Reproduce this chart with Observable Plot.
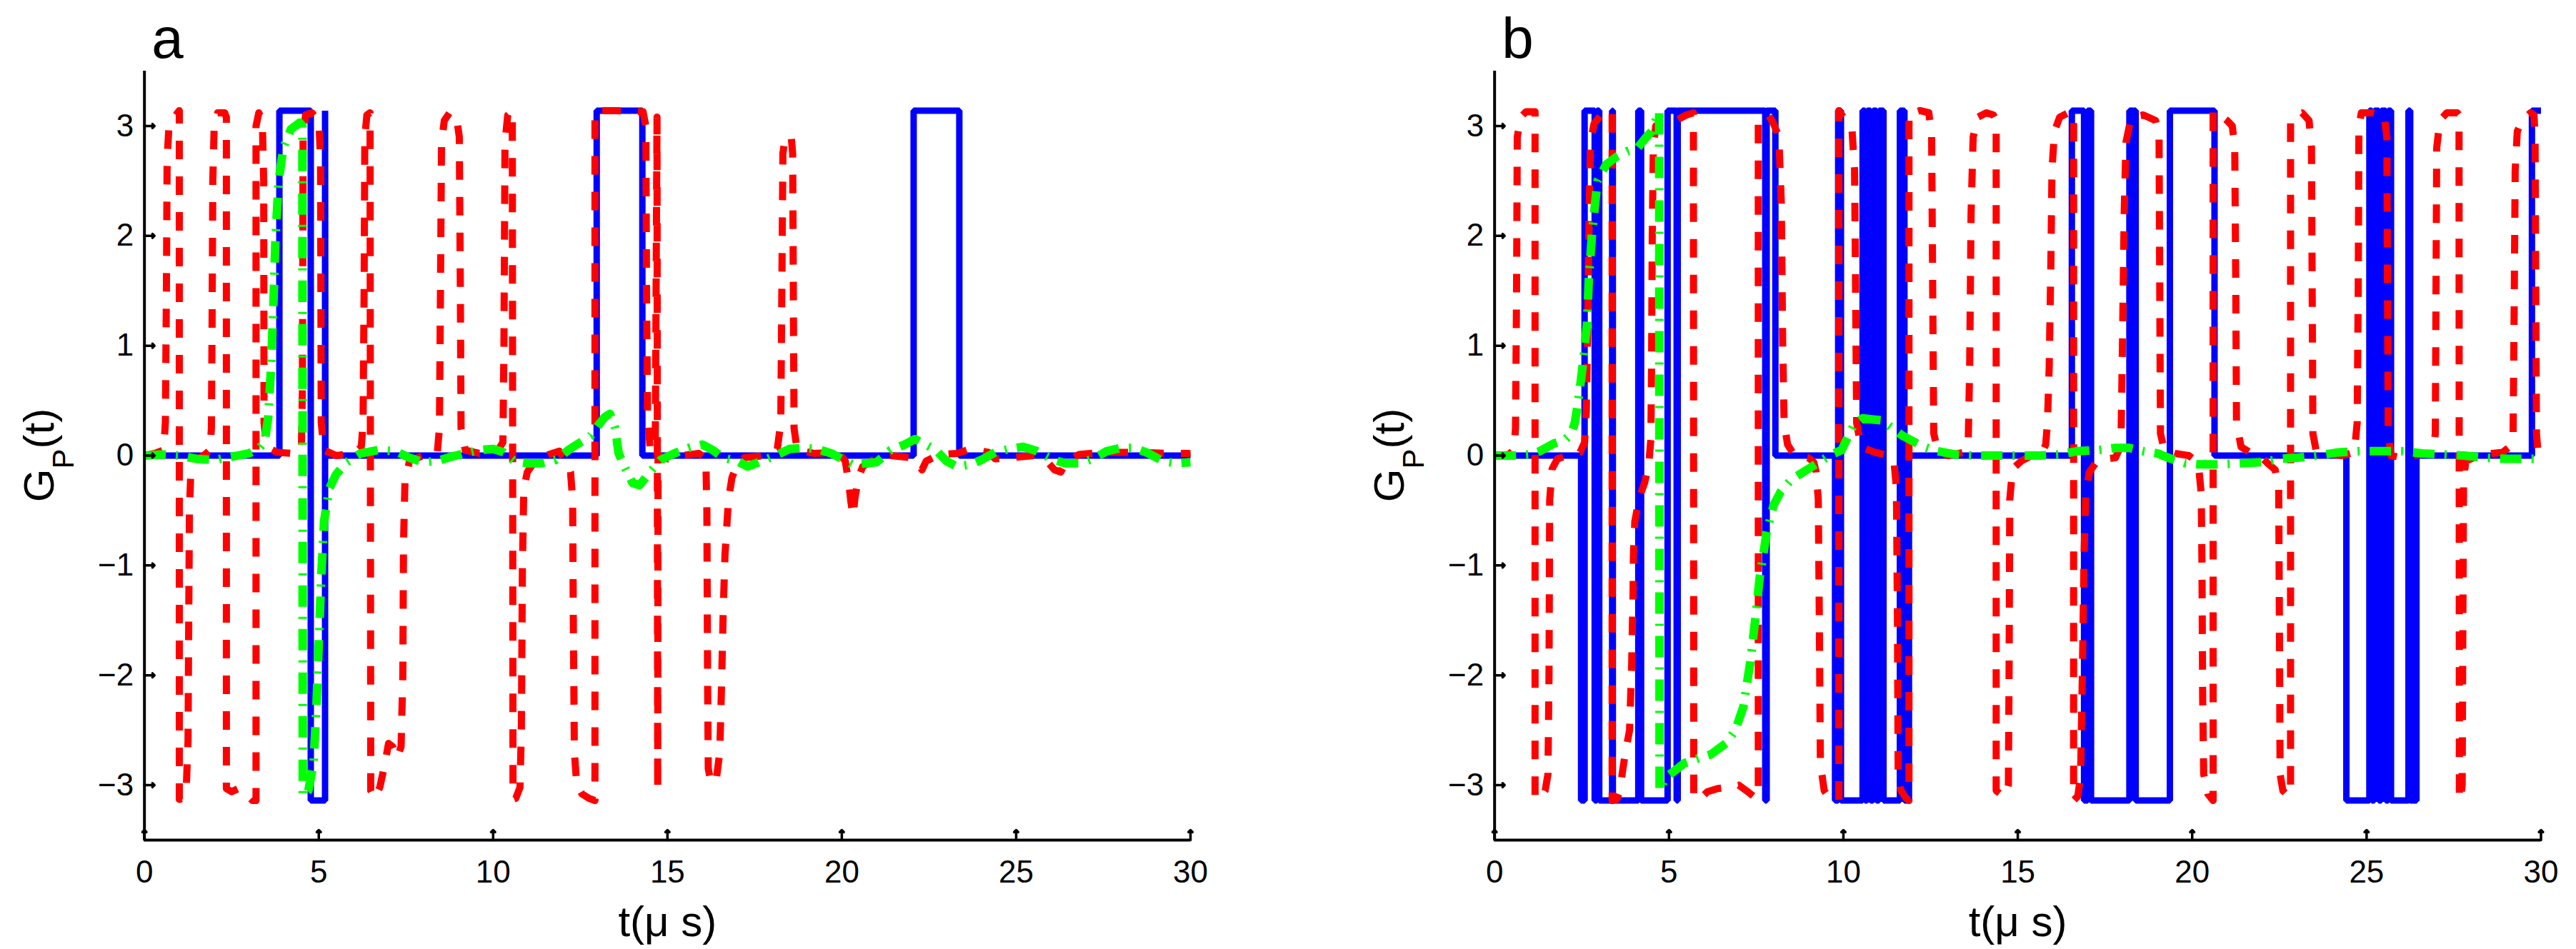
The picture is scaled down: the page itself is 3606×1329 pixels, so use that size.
<!DOCTYPE html>
<html><head><meta charset="utf-8">
<script src="https://cdn.jsdelivr.net/npm/d3@7"></script>
<script src="https://cdn.jsdelivr.net/npm/@observablehq/plot@0.6"></script>
<style>
html,body{margin:0;padding:0;background:#fff;overflow:hidden}
#wrap{display:flex;width:3606px;height:1329px}
#wrap svg{flex:none}
</style></head><body><div id="wrap"></div><script>
const xTicks = [0, 5, 10, 15, 20, 25, 30];
const yTicks = [-3, -2, -1, 0, 1, 2, 3];
const panelLetters = ["a", "b"];
const xLabel = "t(μ s)";

// Panel a: blue (solid), red (dashed), green (dash-dot) – [t, G_P]
const aBlue = [[0,0],[3.87,0],[3.87,3.14],[4.77,3.14],[4.77,-3.14],[5.18,-3.14],[5.18,3.14],[5.19,0],[12.97,0],[12.97,3.14],[14.28,3.14],[14.28,0],[22.06,0],[22.06,3.14],[23.37,3.14],[23.37,0],[30,0]];
const aRed = [[0,0],[0.3,0.02],[0.55,0.05],[0.6,0.3],[0.63,1.5],[0.65,2.7],[0.7,2.98],[0.85,3.08],[1.0,3.14],[1.0,-3.13],[1.1,-3.12],[1.2,-3.02],[1.25,-2.6],[1.27,-1.5],[1.29,-0.5],[1.33,-0.15],[1.45,-0.04],[1.7,0.0],[1.88,0.05],[1.92,0.25],[1.94,1.2],[1.96,2.5],[2.0,3.0],[2.1,3.12],[2.3,3.12],[2.35,3.08],[2.35,-3.03],[2.5,-3.06],[2.7,-3.03],[2.9,-3.08],[3.1,-3.14],[3.2,-3.14],[3.2,3.0],[3.28,3.12],[3.38,3.05],[3.42,2.5],[3.43,0.3],[3.5,0.08],[3.8,0.03],[4.2,0.02],[4.5,0.05],[4.53,0.6],[4.55,2.9],[4.62,3.1],[4.8,3.12],[5.0,3.05],[5.05,2.7],[5.07,0.3],[5.15,0.05],[5.5,0.0],[6.0,0.02],[6.22,0.08],[6.27,0.3],[6.3,1.5],[6.32,2.9],[6.38,3.1],[6.47,3.12],[6.49,-3.05],[6.6,-3.12],[6.75,-3.02],[6.9,-2.8],[7.0,-2.62],[7.12,-2.65],[7.25,-2.75],[7.36,-2.65],[7.41,-2.0],[7.43,-0.8],[7.47,-0.25],[7.6,-0.05],[8.0,0.0],[8.4,0.03],[8.46,0.25],[8.49,1.5],[8.52,2.85],[8.6,3.05],[8.75,3.12],[8.95,3.08],[9.03,2.9],[9.06,1.5],[9.08,0.25],[9.2,0.05],[9.6,0.02],[10.1,0.03],[10.28,0.12],[10.31,1.0],[10.34,2.85],[10.42,3.1],[10.55,3.14],[10.57,-3.13],[10.65,-3.12],[10.77,-3.02],[10.81,-2.5],[10.84,-1.0],[10.88,-0.3],[10.98,-0.15],[11.2,-0.05],[11.6,0.01],[11.9,0.04],[12.1,-0.06],[12.22,-0.15],[12.28,-0.4],[12.3,-1.5],[12.33,-2.7],[12.4,-3.0],[12.55,-3.08],[12.75,-3.12],[12.92,-3.14],[12.92,3.14],[13.5,3.14],[14.3,3.13],[14.38,3.0],[14.4,1.5],[14.43,0.35],[14.5,0.08],[14.65,0.05],[14.7,3.08],[14.72,-3.04],[14.73,0.0],[15.0,-0.03],[15.4,0.0],[15.9,0.02],[16.1,-0.03],[16.13,-0.5],[16.15,-2.0],[16.17,-2.85],[16.25,-2.98],[16.4,-2.95],[16.5,-2.7],[16.55,-2.1],[16.6,-1.4],[16.65,-0.9],[16.75,-0.4],[16.85,-0.2],[17.0,-0.08],[17.2,-0.02],[17.8,0.0],[18.15,0.06],[18.25,0.3],[18.28,1.5],[18.31,2.75],[18.38,2.9],[18.55,2.9],[18.59,2.75],[18.61,1.5],[18.63,0.25],[18.72,0.05],[19.2,0.02],[19.9,0.03],[20.1,-0.05],[20.2,-0.25],[20.26,-0.42],[20.32,-0.55],[20.38,-0.38],[20.48,-0.2],[20.6,-0.1],[20.9,-0.04],[21.4,0.0],[22.0,-0.02],[22.15,-0.06],[22.3,-0.13],[22.42,-0.05],[22.8,0.01],[23.3,0.02],[23.7,0.06],[24.2,0.03],[24.4,-0.03],[24.8,-0.02],[25.5,0.0],[25.85,-0.04],[26.1,-0.13],[26.28,-0.15],[26.42,-0.06],[26.8,0.01],[27.5,0.03],[28.5,0.03],[29.3,0.02],[30,0.02]];
const aGreen = [[0,0],[0.5,0.01],[1.0,0.0],[1.5,-0.03],[2.0,-0.04],[2.5,-0.01],[3.0,0.02],[3.3,0.07],[3.45,0.13],[3.55,0.35],[3.63,0.8],[3.7,1.4],[3.76,2.0],[3.85,2.5],[3.98,2.8],[4.2,2.97],[4.45,3.03],[4.53,3.0],[4.54,-3.1],[4.7,-3.05],[4.85,-2.8],[4.93,-2.3],[5.0,-1.7],[5.07,-1.1],[5.15,-0.6],[5.3,-0.3],[5.5,-0.17],[5.8,-0.06],[6.2,0.02],[6.7,0.05],[7.2,0.04],[7.6,-0.02],[8.0,-0.06],[8.4,-0.05],[8.8,-0.01],[9.2,0.02],[9.6,0.05],[10.0,0.06],[10.3,0.03],[10.6,-0.05],[11.0,-0.07],[11.4,-0.07],[11.8,-0.04],[12.2,0.06],[12.5,0.12],[12.8,0.18],[13.0,0.27],[13.2,0.35],[13.35,0.38],[13.5,0.25],[13.6,0.02],[13.8,-0.12],[14.0,-0.25],[14.2,-0.27],[14.5,-0.15],[14.8,-0.04],[15.2,0.02],[15.6,0.07],[16.0,0.1],[16.3,0.05],[16.6,-0.02],[17.0,-0.05],[17.3,-0.1],[17.7,-0.05],[18.1,0.0],[18.5,0.06],[18.9,0.07],[19.3,0.06],[19.7,0.02],[20.0,-0.03],[20.3,-0.08],[20.7,-0.07],[21.0,-0.06],[21.4,0.05],[21.8,0.1],[22.1,0.15],[22.4,0.1],[22.7,0.05],[23.0,-0.05],[23.3,-0.1],[23.7,-0.08],[24.0,-0.04],[24.4,0.03],[24.8,0.06],[25.2,0.08],[25.6,0.04],[26.0,-0.03],[26.4,-0.07],[26.8,-0.07],[27.2,-0.03],[27.6,0.04],[28.0,0.07],[28.4,0.07],[28.8,0.02],[29.2,-0.05],[29.6,-0.07],[30,-0.06]];

// Panel b
const bBlue = [[0,0],[2.48,0],[2.48,-3.14],[2.58,-3.14],[2.58,3.14],[2.87,3.14],[2.87,-3.14],[2.93,-3.14],[2.93,3.14],[3.0,3.14],[3.0,-3.14],[3.37,-3.14],[3.37,3.14],[3.39,3.14],[3.39,-3.14],[4.12,-3.14],[4.12,3.14],[4.2,3.14],[4.2,-3.14],[4.96,-3.14],[4.96,3.14],[5.22,3.14],[5.22,-3.14],[5.25,-3.14],[5.25,3.14],[7.76,3.14],[7.76,-3.14],[7.8,-3.14],[7.8,3.14],[8.05,3.14],[8.05,0],[9.76,0],[9.76,-3.14],[9.85,-3.14],[9.85,3.14],[9.93,3.14],[9.93,-3.14],[10.55,-3.14],[10.55,3.14],[10.62,3.14],[10.62,-3.14],[10.68,-3.14],[10.68,3.14],[10.78,3.14],[10.78,-3.14],[10.85,-3.14],[10.85,3.14],[10.95,3.14],[10.95,-3.14],[11.02,-3.14],[11.02,3.14],[11.15,3.14],[11.15,-3.14],[11.62,-3.14],[11.62,3.14],[11.75,3.14],[11.75,-3.14],[11.88,-3.14],[11.88,0],[16.55,0],[16.55,3.14],[16.9,3.14],[16.9,-3.14],[17.0,-3.14],[17.0,3.14],[17.1,3.14],[17.1,-3.14],[18.2,-3.14],[18.2,3.14],[18.38,3.14],[18.38,-3.14],[19.36,-3.14],[19.36,3.14],[20.64,3.14],[20.64,0],[24.42,0],[24.42,-3.14],[25.08,-3.14],[25.08,3.14],[25.15,3.14],[25.15,-3.14],[25.22,-3.14],[25.22,3.14],[25.35,3.14],[25.35,-3.14],[25.42,-3.14],[25.42,3.14],[25.55,3.14],[25.55,-3.14],[25.62,-3.14],[25.62,3.14],[25.7,3.14],[25.7,-3.14],[26.2,-3.14],[26.2,3.14],[26.25,3.14],[26.25,-3.14],[26.43,-3.14],[26.43,0],[29.74,0],[29.74,3.14],[30,3.14]];
const bRed = [[0,0],[0.4,0.01],[0.55,0.05],[0.6,0.25],[0.63,1.5],[0.65,2.9],[0.75,3.08],[0.9,3.13],[1.16,3.13],[1.16,-3.12],[1.3,-3.12],[1.45,-3.05],[1.53,-2.9],[1.56,-2.0],[1.58,-0.4],[1.65,-0.12],[1.8,-0.03],[2.1,0.0],[2.45,0.03],[2.58,0.12],[2.63,0.4],[2.67,1.2],[2.71,2.2],[2.75,2.85],[2.85,3.02],[3.05,3.1],[3.3,3.13],[3.37,3.14],[3.37,-3.14],[3.5,-3.13],[3.6,-3.05],[3.66,-2.89],[3.75,-2.7],[3.87,-2.5],[3.9,-2.2],[3.93,-1.9],[3.95,-1.55],[3.97,-1.25],[3.98,-0.9],[4.02,-0.6],[4.15,-0.38],[4.3,-0.25],[4.42,-0.08],[4.48,0.15],[4.5,0.8],[4.52,2.0],[4.55,2.8],[4.62,3.0],[4.9,3.05],[5.2,3.05],[5.5,3.1],[5.7,3.12],[5.71,-3.12],[5.9,-3.12],[6.1,-3.06],[6.4,-3.03],[6.7,-3.02],[7.0,-3.0],[7.3,-3.07],[7.5,-3.12],[7.56,-3.1],[7.56,3.05],[7.7,3.08],[7.85,3.1],[8.0,3.02],[8.15,2.9],[8.22,2.3],[8.26,1.0],[8.3,0.3],[8.4,0.1],[8.6,0.0],[9.0,-0.02],[9.15,-0.06],[9.22,-0.15],[9.28,-0.4],[9.31,-1.5],[9.34,-2.8],[9.45,-3.05],[9.6,-3.12],[9.87,-3.14],[9.87,3.14],[9.95,3.1],[10.1,3.05],[10.25,2.95],[10.32,2.6],[10.35,1.5],[10.38,0.3],[10.5,0.08],[10.9,0.03],[11.3,0.0],[11.45,-0.05],[11.52,-0.3],[11.55,-1.5],[11.57,-2.9],[11.65,-3.05],[11.8,-3.12],[11.88,-3.14],[11.88,3.12],[12.0,3.12],[12.2,3.14],[12.45,3.12],[12.53,2.9],[12.56,1.5],[12.59,0.2],[12.7,0.05],[13.0,0.0],[13.45,0.03],[13.58,0.15],[13.62,0.8],[13.66,2.2],[13.72,2.9],[13.85,3.08],[14.1,3.12],[14.3,3.1],[14.38,3.05],[14.38,-3.05],[14.5,-3.08],[14.65,-3.1],[14.73,-3.0],[14.75,-2.0],[14.77,-0.4],[14.85,-0.12],[15.1,-0.05],[15.4,0.0],[15.7,0.03],[15.8,0.1],[15.85,0.3],[15.9,0.8],[15.95,1.8],[15.98,2.6],[16.05,2.95],[16.2,3.08],[16.45,3.12],[16.6,3.12],[16.6,-3.14],[16.72,-3.1],[16.8,-2.92],[16.85,-2.0],[16.9,-0.9],[16.95,-0.35],[17.05,-0.15],[17.3,-0.04],[17.8,-0.02],[17.9,0.05],[17.96,0.15],[18.0,1.0],[18.05,2.2],[18.1,2.85],[18.25,3.08],[18.6,3.1],[18.95,3.05],[19.05,2.9],[19.07,1.5],[19.09,0.2],[19.2,0.05],[19.5,0.02],[19.9,0.0],[20.1,-0.05],[20.2,-0.15],[20.26,-0.35],[20.28,-1.0],[20.3,-2.2],[20.33,-2.9],[20.45,-3.08],[20.6,-3.14],[20.6,3.14],[20.8,3.1],[21.0,3.05],[21.15,3.0],[21.22,2.8],[21.25,1.5],[21.27,0.3],[21.4,0.08],[21.7,0.02],[22.0,-0.02],[22.2,-0.08],[22.38,-0.13],[22.48,-0.3],[22.5,-1.5],[22.52,-2.9],[22.6,-3.05],[22.75,-3.1],[22.82,-3.08],[22.82,3.05],[22.95,3.1],[23.15,3.12],[23.35,3.05],[23.42,2.8],[23.44,1.5],[23.46,0.2],[23.55,0.05],[23.8,0.02],[24.3,0.0],[24.65,0.03],[24.73,0.3],[24.76,1.5],[24.78,3.0],[24.85,3.12],[25.2,3.12],[25.5,3.1],[25.58,2.9],[25.6,1.5],[25.62,0.2],[25.7,0.0],[26.0,-0.02],[26.5,0.01],[26.9,0.02],[26.97,0.2],[26.99,1.5],[27.01,2.8],[27.1,3.05],[27.3,3.12],[27.6,3.12],[27.65,3.1],[27.66,-3.1],[27.7,-3.14],[27.74,-3.0],[27.76,-1.5],[27.78,-0.2],[27.85,-0.05],[28.2,0.0],[28.6,0.02],[28.9,0.03],[29.1,0.08],[29.2,0.2],[29.23,1.3],[29.26,2.6],[29.32,2.95],[29.45,3.05],[29.7,3.12],[29.8,3.1],[29.83,2.9],[29.85,1.5],[29.87,0.2],[29.93,-0.03],[30,-0.02]];
const bGreen = [[0,0],[0.5,0.0],[1.0,0.01],[1.3,0.04],[1.7,0.11],[2.0,0.14],[2.2,0.2],[2.3,0.3],[2.4,0.5],[2.5,0.75],[2.55,0.9],[2.65,1.2],[2.7,1.6],[2.8,2.05],[2.95,2.5],[3.2,2.65],[3.5,2.72],[3.8,2.77],[4.1,2.8],[4.3,2.88],[4.5,2.95],[4.65,3.08],[4.72,3.13],[4.73,-3.05],[4.9,-2.93],[5.2,-2.86],[5.44,-2.8],[5.9,-2.75],[6.2,-2.72],[6.63,-2.62],[6.9,-2.5],[7.13,-2.29],[7.33,-1.88],[7.47,-1.5],[7.6,-1.11],[7.8,-0.7],[8.0,-0.45],[8.2,-0.33],[8.5,-0.22],[8.7,-0.18],[9.0,-0.12],[9.3,-0.06],[9.6,0.0],[9.95,0.05],[10.1,0.15],[10.3,0.28],[10.55,0.34],[10.8,0.33],[11.1,0.32],[11.4,0.25],[11.7,0.18],[12.0,0.13],[12.3,0.08],[12.7,0.04],[13.2,0.01],[13.8,0.0],[14.4,0.0],[15.0,0.0],[15.6,0.0],[16.2,0.01],[16.7,0.04],[17.3,0.05],[17.8,0.07],[18.2,0.07],[18.6,0.04],[19.0,0.02],[19.4,-0.03],[19.8,-0.07],[20.2,-0.08],[20.8,-0.08],[21.4,-0.07],[22.0,-0.06],[22.5,-0.03],[23.0,-0.02],[23.6,0.0],[24.2,0.03],[24.8,0.04],[25.4,0.04],[26.0,0.04],[26.6,0.02],[27.2,0.01],[27.8,0.0],[28.4,-0.02],[29.0,-0.03],[29.6,-0.03],[30,-0.03]];

const FONT = "'Liberation Sans', Arial, Helvetica, sans-serif";
const toRows = (arr) => arr.map(([t, v]) => ({t, v}));
const intFmt = (d) => (d < 0 ? "\u2212" + Math.abs(d) : String(d));

function panel(letter, blue, red, green, mL, mR) {
  const W = 1803, H = 1329, mT = 99, mB = 153;
  const svg = Plot.plot({
    width: W, height: H,
    marginLeft: mL, marginRight: mR, marginTop: mT, marginBottom: mB,
    style: {fontFamily: FONT, background: "white", color: "black", overflow: "visible"},
    x: {domain: [0, 30]},
    y: {domain: [-3.5, 3.5]},
    marks: [
      Plot.axisX(xTicks, {tickSize: 0, tickPadding: 28, fontSize: 44, label: null, tickFormat: intFmt}),
      Plot.axisY(yTicks, {tickSize: 0, tickPadding: 15, fontSize: 44, label: null, tickFormat: intFmt}),
      Plot.line(toRows(blue), {x: "t", y: "v", stroke: "#0000ff", strokeWidth: 9, strokeLinejoin: "miter", strokeLinecap: "butt"}),
      Plot.line(toRows(red), {x: "t", y: "v", stroke: "#ff0000", strokeWidth: 10, strokeDasharray: "26,24", strokeLinejoin: "round", strokeLinecap: "butt"}),
      Plot.line(toRows(green), {x: "t", y: "v", stroke: "#00ff00", strokeWidth: 12, strokeDasharray: "30,14,3,14", strokeLinejoin: "round", strokeLinecap: "butt"}),
      Plot.ruleX([0], {stroke: "black", strokeWidth: 4}),
      Plot.ruleY([-3.5], {stroke: "black", strokeWidth: 4}),
      Plot.vector(xTicks, {x: d => d, y: -3.5, length: 14, rotate: 0, anchor: "start", stroke: "black", strokeWidth: 3.5}),
      Plot.vector(yTicks, {x: 0, y: d => d, length: 14, rotate: 90, anchor: "start", stroke: "black", strokeWidth: 3.5}),
      Plot.text([letter], {frameAnchor: "top-left", dx: 10, dy: -19, lineAnchor: "bottom", textAnchor: "start", fontSize: 80}),
      Plot.text([xLabel], {frameAnchor: "bottom", dy: 134, lineAnchor: "bottom", fontSize: 60})
    ]
  });
  // y-axis label G_P(t) with subscript
  const yl = d3.select(svg).append("text")
    .attr("transform", `translate(${mL - 127},${mT + (H - mT - mB) / 2}) rotate(-90)`)
    .attr("text-anchor", "middle")
    .attr("font-family", FONT)
    .attr("font-size", 60)
    .attr("fill", "black");
  yl.append("tspan").text("G");
  yl.append("tspan").attr("font-size", 42).attr("dy", 28).text("P");
  yl.append("tspan").attr("dy", -28).text("(t)");
  return svg;
}

const wrap = document.getElementById("wrap");
wrap.appendChild(panel(panelLetters[0], aBlue, aRed, aGreen, 201.7, 137));
wrap.appendChild(panel(panelLetters[1], bBlue, bRed, bGreen, 288.7, 49.5));
</script></body></html>
